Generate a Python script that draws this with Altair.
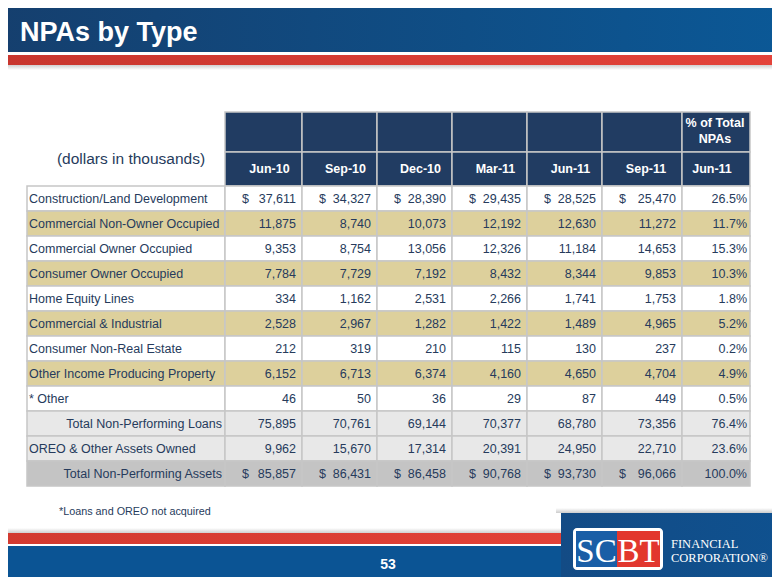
import altair as alt
import pandas as pd

# ---------------- data ----------------
categories = [
    "Construction/Land Development",
    "Commercial Non-Owner Occupied",
    "Commercial Owner Occupied",
    "Consumer Owner Occupied",
    "Home Equity Lines",
    "Commercial & Industrial",
    "Consumer Non-Real Estate",
    "Other Income Producing Property",
    "* Other",
    "Total Non-Performing Loans",
    "OREO & Other Assets Owned",
    "Total Non-Performing Assets",
]
periods = ["Jun-10", "Sep-10", "Dec-10", "Mar-11", "Jun-11", "Sep-11"]
jun10 = [37611, 11875, 9353, 7784, 334, 2528, 212, 6152, 46, 75895, 9962, 85857]
sep10 = [34327, 8740, 8754, 7729, 1162, 2967, 319, 6713, 50, 70761, 15670, 86431]
dec10 = [28390, 10073, 13056, 7192, 2531, 1282, 210, 6374, 36, 69144, 17314, 86458]
mar11 = [29435, 12192, 12326, 8432, 2266, 1422, 115, 4160, 29, 70377, 20391, 90768]
jun11 = [28525, 12630, 11184, 8344, 1741, 1489, 130, 4650, 87, 68780, 24950, 93730]
sep11 = [25470, 11272, 14653, 9853, 1753, 4965, 237, 4704, 449, 73356, 22710, 96066]
pct_jun11 = [26.5, 11.7, 15.3, 10.3, 1.8, 5.2, 0.2, 4.9, 0.5, 76.4, 23.6, 100.0]
pct_header = ["% of Total", "NPAs"]
pct_period = "Jun-11"
title = "NPAs by Type"
units_note = "(dollars in thousands)"
footnote = "*Loans and OREO not acquired"
page_no = "53"

series = [jun10, sep10, dec10, mar11, jun11, sep11]

# ---------------- layout / style ----------------
W, H = 764, 569
XS = alt.Scale(domain=[0, 780], range=[-8, 772])
YS = alt.Scale(domain=[0, 585], range=[-8, 577])
FONT = "Liberation Sans"
TXT = "#263b5c"
GRID = "#c6c6c6"
NAVY = "#213c62"
TAN = "#ddd09c"
LGRAY = "#e8e8e8"
DGRAY = "#c4c4c4"
FS = 12.5

table_left = 27
col_edges = [225, 302, 377, 452, 527, 602, 682, 750]
hdr_top, hdr_mid, hdr_bot = 112, 152, 186
row_edges = [186, 211, 236, 261, 286, 311, 336, 361, 386, 411, 436, 461, 486]
row_fill = ["white", TAN, "white", TAN, "white", TAN, "white", TAN, "white",
            LGRAY, LGRAY, DGRAY]
right_rows = {9, 11}
dollar_rows = {0, 11}


def rects(df, **kw):
    enc = dict(
        x=alt.X("x:Q", scale=XS, axis=None), x2="x2:Q",
        y=alt.Y("y:Q", scale=YS, axis=None), y2="y2:Q",
    )
    if "fill" in df.columns:
        enc["color"] = alt.Color("fill:N", scale=None, legend=None)
    return alt.Chart(df).mark_rect(**kw).encode(**enc)


def texts(df, **kw):
    base = dict(font=FONT, baseline="middle")
    base.update(kw)
    return alt.Chart(df).mark_text(**base).encode(
        x=alt.X("x:Q", scale=XS, axis=None),
        y=alt.Y("y:Q", scale=YS, axis=None),
        text="t:N",
    )


def box(x, x2, y, y2):
    return pd.DataFrame({"x": [x], "x2": [x2], "y": [y], "y2": [y2]})


def grad(c1, c2, horizontal=True):
    return alt.LinearGradient(
        gradient="linear",
        stops=[alt.GradientStop(offset=0, color=c1), alt.GradientStop(offset=1, color=c2)],
        x1=0, x2=1 if horizontal else 0, y1=0, y2=0 if horizontal else 1,
    )


layers = []

# top banner
layers.append(rects(box(0, 780, 0, 52), color=grad("#153f6e", "#0b5896")))
layers.append(rects(box(0, 780, 55, 65), color=grad("#c8362e", "#e4433a")))
layers.append(rects(box(0, 780, 65, 70), color=grad("#cfcfcf", "#ffffff", False)))
layers.append(texts(pd.DataFrame({"x": [20], "y": [33], "t": [title]}),
                    align="left", fontSize=27, fontWeight="bold", color="white"))

# bottom band
layers.append(rects(box(0, 780, 528, 533), color=grad("#ffffff", "#d0d0d0", False)))
layers.append(rects(box(0, 780, 533, 544), color=grad("#d23a30", "#e8443a")))
layers.append(rects(box(0, 780, 546, 585), color="#0b5494"))
layers.append(texts(pd.DataFrame({"x": [388], "y": [565], "t": [page_no]}),
                    align="center", fontSize=14, fontWeight="bold", color="white"))

# logo panel
layers.append(rects(box(556, 780, 508, 513), color=grad("#ffffff", "#cccccc", False)))
layers.append(rects(box(561, 780, 513, 585), color=grad("#134b85", "#0f518f")))
layers.append(rects(box(573, 663, 528, 570), color="white", cornerRadius=4))
layers.append(rects(box(576, 617, 531, 567), color="#1a5ea6"))
layers.append(rects(box(617, 660, 531, 567), color="#e2372e"))
logo_letters = pd.DataFrame({"x": [596.5, 638.5], "y": [562, 562], "t": ["SC", "BT"]})
layers.append(texts(logo_letters, align="center", baseline="alphabetic",
                    font="Liberation Serif", fontSize=33, color="white"))
layers.append(texts(pd.DataFrame({"x": [671, 671], "y": [548, 562],
                                  "t": ["FINANCIAL", "CORPORATION®"]}),
                    align="left", baseline="alphabetic", font="Liberation Serif",
                    fontSize=12.5, color="white"))

# header cells
hdr = []
for c in range(len(col_edges) - 1):
    hdr.append({"x": col_edges[c], "x2": col_edges[c + 1], "y": hdr_top, "y2": hdr_mid})
    hdr.append({"x": col_edges[c], "x2": col_edges[c + 1], "y": hdr_mid, "y2": hdr_bot})
layers.append(rects(pd.DataFrame(hdr), color=NAVY, stroke=GRID, strokeWidth=1.5))

# body cells
cells = []
for r in range(len(categories)):
    edges = [table_left] + col_edges
    for c in range(len(edges) - 1):
        cells.append({"x": edges[c], "x2": edges[c + 1], "y": row_edges[r],
                      "y2": row_edges[r + 1], "fill": row_fill[r]})
layers.append(rects(pd.DataFrame(cells), stroke=GRID, strokeWidth=1.5))

# header texts
hx = [(col_edges[i] + col_edges[i + 1]) / 2 + 6 for i in range(6)]
hx[5] -= 2
hdr_txt = pd.DataFrame({
    "x": hx + [712, 715, 715],
    "y": [169] * 6 + [169, 123, 139],
    "t": periods + [pct_period] + pct_header,
})
layers.append(texts(hdr_txt, align="center", fontSize=FS, fontWeight="bold", color="white"))

# units note and footnote
layers.append(texts(pd.DataFrame({"x": [131], "y": [159], "t": [units_note]}),
                    align="center", fontSize=15.5, color=TXT))
layers.append(texts(pd.DataFrame({"x": [59], "y": [512], "t": [footnote]}),
                    align="left", fontSize=10.8, color=TXT))

# row labels
lab_left, lab_right = [], []
for r, name in enumerate(categories):
    yc = (row_edges[r] + row_edges[r + 1]) / 2
    (lab_right if r in right_rows else lab_left).append(
        {"x": 222 if r in right_rows else 29, "y": yc, "t": name})
layers.append(texts(pd.DataFrame(lab_left), align="left", fontSize=FS, color=TXT))
layers.append(texts(pd.DataFrame(lab_right), align="right", fontSize=FS, color=TXT))

# numbers
nums, dollars = [], []
for c, vals in enumerate(series):
    for r, v in enumerate(vals):
        yc = (row_edges[r] + row_edges[r + 1]) / 2
        nums.append({"x": col_edges[c + 1] - 6, "y": yc, "t": f"{v:,}"})
        if r in dollar_rows:
            dollars.append({"x": col_edges[c] + 17, "y": yc, "t": "$"})
for r, v in enumerate(pct_jun11):
    yc = (row_edges[r] + row_edges[r + 1]) / 2
    nums.append({"x": col_edges[-1] - 3, "y": yc, "t": f"{v:.1f}%"})
layers.append(texts(pd.DataFrame(nums), align="right", fontSize=FS, color=TXT))
layers.append(texts(pd.DataFrame(dollars), align="left", fontSize=FS, color=TXT))

chart = alt.layer(*layers).properties(
    width=W, height=H, padding=0, autosize="none"
).configure_view(stroke=None)

chart.save("out.html", embed_options={"renderer": "svg", "actions": False})
